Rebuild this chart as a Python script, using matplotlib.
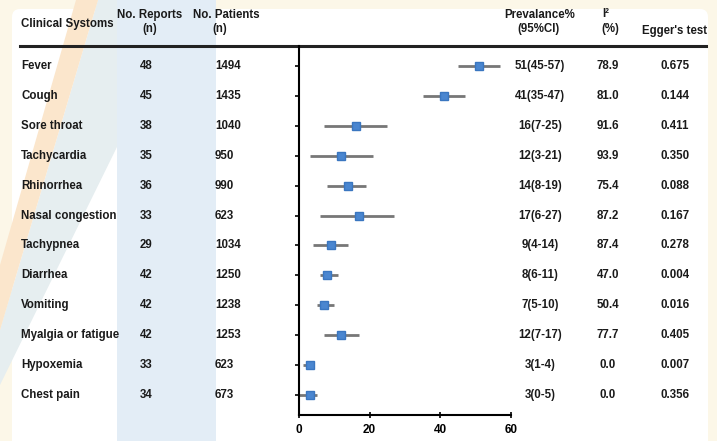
import numpy as np
import matplotlib
matplotlib.use("Agg")
import matplotlib.pyplot as plt
import matplotlib.transforms as mtransforms
from matplotlib.patches import Polygon, FancyBboxPatch, Rectangle

symptoms = ["Fever", "Cough", "Sore throat", "Tachycardia", "Rhinorrhea",
            "Nasal congestion", "Tachypnea", "Diarrhea", "Vomiting",
            "Myalgia or fatigue", "Hypoxemia", "Chest pain"]
n_reports = [48, 45, 38, 35, 36, 33, 29, 42, 42, 42, 33, 34]
n_patients = [1494, 1435, 1040, 950, 990, 623, 1034, 1250, 1238, 1253, 623, 673]
prev = [51, 41, 16, 12, 14, 17, 9, 8, 7, 12, 3, 3]
ci_low = [45, 35, 7, 3, 8, 6, 4, 6, 5, 7, 1, 0]
ci_high = [57, 47, 25, 21, 19, 27, 14, 11, 10, 17, 4, 5]
i2 = [78.9, 81.0, 91.6, 93.9, 75.4, 87.2, 87.4, 47.0, 50.4, 77.7, 0.0, 0.0]
egger = [0.675, 0.144, 0.411, 0.350, 0.088, 0.167, 0.278, 0.004, 0.016, 0.405, 0.007, 0.356]
xticks = [0, 20, 40, 60]

plt.rcParams['font.family'] = ['Liberation Sans', 'DejaVu Sans']
plt.rcParams['font.weight'] = 'bold'

W, H = 717, 441
fig = plt.figure(figsize=(W / 100, H / 100), dpi=100)

# background + faint watermark
bg = fig.add_axes([0, 0, 1, 1])
bg.set_xlim(0, W)
bg.set_ylim(H, 0)
bg.axis('off')
bg.add_patch(Rectangle((0, 0), W, H, fc='#fcf7e8', ec='none'))
bg.add_patch(FancyBboxPatch((12, 9), 696, 445, boxstyle='round,pad=0,rounding_size=8',
                            fc='white', ec='none'))
bg.add_patch(Polygon([(98, 0), (117, 0), (117, 147), (0, 385), (0, 330)],
                     fc='#e6eef0', ec='none'))
bg.add_patch(Polygon([(76, 0), (98, 0), (0, 330), (0, 265)], fc='#fbe6cc', ec='none'))
bg.add_patch(Rectangle((117, 0), 99, H, fc='#e3edf6', ec='none'))

# forest plot
ax = fig.add_axes([299 / W, 1 - 415 / H, (511 - 299) / W, (415 - 46) / H])
ax.set_facecolor('none')
y = np.arange(len(symptoms))
ax.hlines(y, ci_low, ci_high, color='#777777', lw=2)
ax.plot(prev, y, 's', color='#4a86d0', ms=6, mec='#3a76c0')
ax.set_xlim(0, 60)
ax.set_ylim(len(symptoms) - 1 + 0.67, -0.67)
for s in ['top', 'right']:
    ax.spines[s].set_visible(False)
for s in ['left', 'bottom']:
    ax.spines[s].set_linewidth(1.5)
ax.set_yticks(y)
ax.set_yticklabels([])
ax.tick_params(axis='y', direction='out', length=3, width=1.2)
ax.set_xticks(xticks)
ax.set_xticklabels([str(t) for t in xticks], fontsize=8.5, fontweight='bold')
ax.tick_params(axis='x', direction='inout', length=5, width=1.2, pad=4)

# table text
tr = mtransforms.blended_transform_factory(fig.transFigure, ax.transData)
fs = 8.3
col = '#1a1a1a'
for i in range(len(symptoms)):
    kw = dict(transform=tr, va='center', fontsize=fs, color=col)
    fig.text(21 / W, i, symptoms[i], ha='left', **kw)
    fig.text(146 / W, i, str(n_reports[i]), ha='center', **kw)
    fig.text(215 / W, i, str(n_patients[i]), ha='left', **kw)
    fig.text(540 / W, i, f"{prev[i]}({ci_low[i]}-{ci_high[i]})", ha='center', **kw)
    fig.text(608 / W, i, f"{i2[i]:.1f}", ha='center', **kw)
    fig.text(675 / W, i, f"{egger[i]:.3f}", ha='center', **kw)

# header
def htxt(px, py, s, ha='center'):
    fig.text(px / W, 1 - py / H, s, ha=ha, va='center', fontsize=fs, color=col)

htxt(21, 24, "Clinical Systoms", ha='left')
htxt(150, 15, "No. Reports")
htxt(150, 29, "(n)")
htxt(193, 15, "No. Patients", ha='left')
htxt(220, 29, "(n)")
htxt(540, 15, "Prevalance%")
htxt(539, 29, "(95%CI)")
htxt(606, 14, "I²")
htxt(610, 29, "(%)")
htxt(675, 31, "Egger's test")
bg.plot([20, 706], [46, 46], color='#222222', lw=2.2)

fig.savefig("out.png", dpi=100)
